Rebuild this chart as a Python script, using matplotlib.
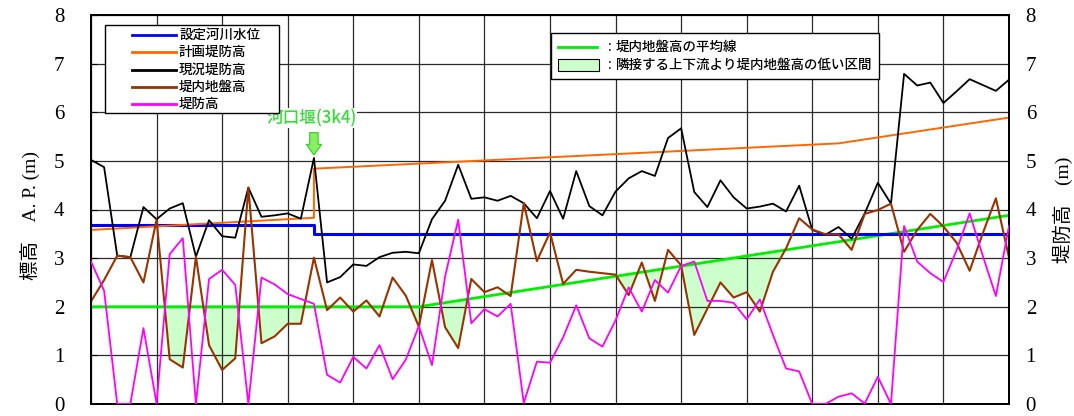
import numpy as np
import matplotlib
matplotlib.use("Agg")
import matplotlib.pyplot as plt
from matplotlib.lines import Line2D
from matplotlib.patches import Rectangle

plt.rcParams["font.family"] = ["Noto Sans CJK JP", "DejaVu Sans"]

# ---- data -------------------------------------------------------------
section = np.arange(71)  # survey sections, downstream -> upstream

levee_now = [5.02, 4.87, 3.05, 3.02, 4.05, 3.80, 4.02, 4.13, 3.03, 3.78,
             3.45, 3.42, 4.45, 3.85, 3.88, 3.92, 3.81, 5.06, 2.50, 2.61,
             2.87, 2.84, 3.02, 3.11, 3.13, 3.10, 3.80, 4.18, 4.92, 4.22,
             4.25, 4.18, 4.28, 4.13, 3.82, 4.38, 3.81, 4.79, 4.07, 3.88,
             4.37, 4.64, 4.79, 4.69, 5.47, 5.67, 4.36, 4.05, 4.60, 4.25,
             4.02, 4.06, 4.12, 3.96, 4.49, 3.58, 3.48, 3.64, 3.40, 3.92,
             4.55, 4.12, 6.79, 6.55, 6.61, 6.19, 6.43, 6.68, 6.56, 6.44,
             6.67]

ground = [2.11, 2.55, 3.05, 3.02, 2.50, 3.79, 0.92, 0.75, 3.03, 1.21,
          0.70, 0.94, 4.45, 1.25, 1.39, 1.65, 1.65, 3.01, 1.93, 2.19,
          1.90, 2.13, 1.80, 2.60, 2.23, 1.59, 2.96, 1.58, 1.15, 2.57,
          2.30, 2.40, 2.22, 4.13, 2.94, 3.53, 2.47, 2.76, 2.72, 2.69,
          2.66, 2.24, 2.91, 2.12, 3.17, 2.85, 1.42, 1.96, 2.50, 2.19,
          2.30, 1.90, 2.72, 3.20, 3.82, 3.59, 3.49, 3.49, 3.17, 3.91,
          3.99, 4.12, 3.13, 3.58, 3.91, 3.65, 3.32, 2.74, 3.51, 4.23,
          3.01]

levee_height = [2.93, 2.33, 0.00, 0.00, 1.56, 0.01, 3.08, 3.41, 0.00, 2.57,
                2.76, 2.45, 0.00, 2.60, 2.46, 2.26, 2.16, 2.06, 0.60, 0.44,
                0.97, 0.73, 1.21, 0.51, 0.91, 1.60, 0.80, 2.62, 3.79, 1.66,
                1.95, 1.80, 2.06, 0.02, 0.87, 0.85, 1.37, 2.03, 1.35, 1.18,
                1.72, 2.40, 1.90, 2.55, 2.29, 2.84, 2.93, 2.12, 2.12, 2.08,
                1.74, 2.15, 1.42, 0.73, 0.67, 0.00, 0.00, 0.15, 0.22, 0.01,
                0.56, 0.00, 3.66, 2.93, 2.69, 2.51, 3.16, 3.92, 3.05, 2.22,
                3.66]

water_x = [0, 17, 17, 70]
water = [3.68, 3.68, 3.50, 3.50]

plan_x = [0, 17, 17, 57, 70]
plan = [3.58, 3.83, 4.84, 5.36, 5.89]

mean_x = [0, 25, 70]
mean_ground = [2.00, 2.00, 3.88]

low_section_end = 61  # shading of low ground is evaluated up to this section

weir_section = 17
weir_label = "河口堰(3k4)"

y_ticks = list(range(9))
series_labels = ["設定河川水位", "計画堤防高", "現況堤防高", "堤内地盤高", "堤防高"]
series_colors = ["#0000ff", "#ff6600", "#000000", "#993300", "#ff00ff"]
mean_label = "堤内地盤高の平均線"
low_label = "隣接する上下流より堤内地盤高の低い区間"

# ---- figure -----------------------------------------------------------
W, H = 1074, 416
fig = plt.figure(figsize=(W / 100, H / 100), dpi=100)
ax = fig.add_axes([91 / W, 12 / H, 918 / W, 389 / H])


def fpx(x, y):
    """pixel position (from top-left) -> figure fraction"""
    return x / W, 1 - y / H


serif = ["Liberation Serif", "Noto Sans CJK JP"]

ax.set_xlim(0, 70)
ax.set_ylim(0, 8)
ax.set_xticks(range(0, 71, 5))
ax.set_yticks(y_ticks, labels=[str(t) for t in y_ticks], fontfamily=serif, fontsize=15)
ax.grid(True, color="#2a2a2a", lw=0.9)
ax.tick_params(axis="x", length=0, labelbottom=False)
ax.tick_params(axis="y", direction="in", length=4, pad=19)
for s in ax.spines.values():
    s.set_linewidth(1.3)

# low-ground shading
g = np.array(ground)
m = np.interp(section, mean_x, mean_ground)
mask = (g < m) & (section <= low_section_end)
ax.fill_between(section, g, m, where=mask, interpolate=True,
                facecolor="#ccffcc", edgecolor="none", zorder=1)

ax.plot(mean_x, mean_ground, color="#00ee00", lw=2.0, zorder=2)
ax.plot(water_x, water, color=series_colors[0], lw=2.2, zorder=3)
ax.plot(plan_x, plan, color=series_colors[1], lw=1.4, zorder=3)
ax.plot(section, levee_now, color=series_colors[2], lw=1.3, zorder=4)
ax.plot(section, ground, color=series_colors[3], lw=1.5, zorder=4)

ax2 = ax.twinx()
ax2.set_ylim(0, 8)
ax2.set_yticks(y_ticks, labels=[str(t) for t in y_ticks], fontfamily=serif, fontsize=15)
ax2.tick_params(axis="y", direction="in", length=0, pad=12)
for s in ax2.spines.values():
    s.set_linewidth(1.3)
ax2.plot(section, levee_height, color=series_colors[4], lw=1.3, zorder=4)

# weir annotation
ax2.text(weir_section - 0.2, 5.88, weir_label, color="#33dd33", fontsize=12,
         fontweight="medium", ha="center", va="center", zorder=6,
         bbox=dict(facecolor="white", edgecolor="none", pad=0.5))
ax2.annotate("", xy=(weir_section, levee_now[weir_section] + 0.06),
             xytext=(weir_section, levee_now[weir_section] + 0.52),
             arrowprops=dict(arrowstyle="simple,head_width=1.0,head_length=0.7,tail_width=0.55",
                             mutation_scale=11, fc="#88ee66", ec="#33cc22", lw=0.8,
                             shrinkA=0, shrinkB=0), zorder=6)

# axis titles
fig.text(*fpx(30, 216), "標高　A. P. (m)", rotation=90, ha="center", va="center",
         fontsize=14, family=serif)
fig.text(*fpx(1063, 210), "堤防高　(m)", rotation=90, ha="center", va="center",
         fontsize=14, family=serif)

# legend: series
x0, y0, x1, y1 = fpx(104.5, 113) + fpx(279, 25)
fig.patches.append(Rectangle((x0, y0), x1 - x0, y1 - y0, transform=fig.transFigure,
                             facecolor="white", edgecolor="black", lw=1.0, zorder=5))
for k, (lab, col) in enumerate(zip(series_labels, series_colors)):
    yy = 35 + k * 17.3
    la, lb = fpx(132, yy), fpx(176, yy)
    fig.lines.append(Line2D([la[0], lb[0]], [la[1], lb[1]], transform=fig.transFigure,
                            color=col, lw=2.0, zorder=6))
    fig.text(*fpx(179, yy), lab, fontsize=9.7, fontweight="medium",
             ha="left", va="center", zorder=6)

# legend: mean line and shading
x0, y0, x1, y1 = fpx(551, 79) + fpx(879, 33)
fig.patches.append(Rectangle((x0, y0), x1 - x0, y1 - y0, transform=fig.transFigure,
                             facecolor="white", edgecolor="black", lw=1.0, zorder=5))
la, lb = fpx(558, 47), fpx(597, 47)
fig.lines.append(Line2D([la[0], lb[0]], [la[1], lb[1]], transform=fig.transFigure,
                        color="#00ee00", lw=2.0, zorder=6))
px0, py0, px1, py1 = fpx(558, 71) + fpx(599, 59)
fig.patches.append(Rectangle((px0, py0), px1 - px0, py1 - py0, transform=fig.transFigure,
                             facecolor="#ccffcc", edgecolor="black", lw=0.8, zorder=6))
for yy, lab in [(47, mean_label), (65, low_label)]:
    fig.text(*fpx(608, yy), ":", fontsize=9.7, ha="left", va="center", zorder=6)
    fig.text(*fpx(616, yy), lab, fontsize=9.7, fontweight="medium",
             ha="left", va="center", zorder=6)

fig.savefig("out.png", dpi=100)
